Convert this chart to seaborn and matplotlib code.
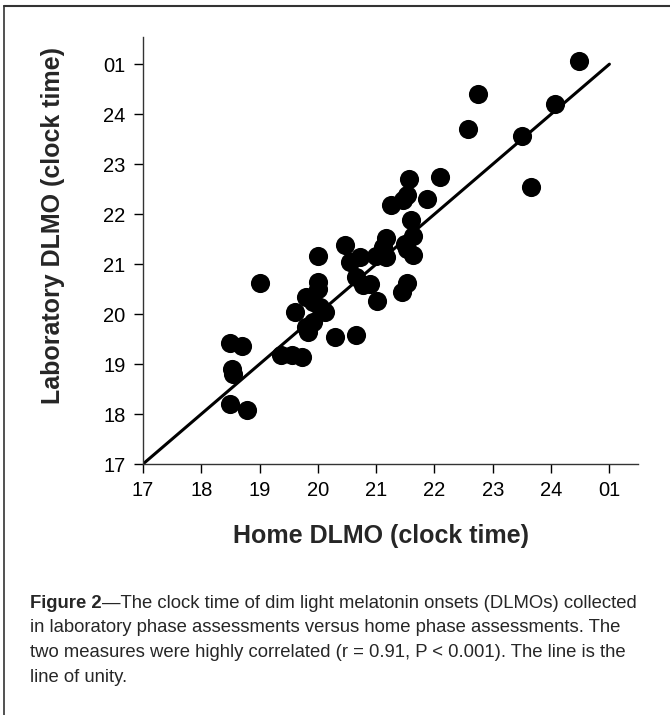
import numpy as np
import pandas as pd
import seaborn as sns
import matplotlib.pyplot as plt
from matplotlib.lines import Line2D

sns.set_style("ticks")
plt.rcParams['font.family'] = ['Liberation Sans', 'DejaVu Sans']

# DLMO clock times in hours (25 = 01:00 next day)
home = [24.48, 22.74, 24.06, 22.58, 23.50, 23.65,
        21.56, 22.09, 21.53, 21.46, 21.87, 21.26, 21.59, 21.63, 21.17, 21.49,
        21.52, 21.12, 21.00, 21.17, 21.63, 20.46, 20.55, 20.72, 20.00,
        20.00, 20.00, 19.80, 19.92, 20.03, 20.12, 19.60, 19.92, 19.80, 19.83,
        20.30, 20.66, 20.66, 20.89, 20.77, 21.01, 21.53, 21.45, 19.01,
        18.50, 18.69, 18.52, 18.54, 18.50, 18.79, 19.36, 19.55, 19.73]
lab = [25.07, 24.41, 24.20, 23.70, 23.57, 22.54,
       22.71, 22.74, 22.38, 22.28, 22.31, 22.18, 21.89, 21.56, 21.53, 21.41,
       21.31, 21.35, 21.17, 21.15, 21.18, 21.38, 21.05, 21.15, 21.17,
       20.65, 20.51, 20.35, 20.25, 20.15, 20.05, 20.05, 19.85, 19.75, 19.65,
       19.55, 19.58, 20.75, 20.61, 20.58, 20.27, 20.63, 20.45, 20.63,
       19.43, 19.36, 18.91, 18.80, 18.20, 18.09, 19.18, 19.18, 19.15]

ticks = [17, 18, 19, 20, 21, 22, 23, 24, 25]
tick_labels = ["17", "18", "19", "20", "21", "22", "23", "24", "01"]

df = pd.DataFrame({"home": home, "lab": lab})

fig = plt.figure(figsize=(6.7, 7.15), dpi=100)
ax = fig.add_axes([0.2134, 0.351, 0.7388, 0.597])

sns.scatterplot(data=df, x="home", y="lab", ax=ax, s=190, color="black",
                edgecolor="black", linewidth=0, zorder=3)

# line of unity
ax.plot([17, 25], [17, 25], color="black", linewidth=2.2, zorder=2)

ax.set_xlim(17, 25.49)
ax.set_ylim(17, 25.54)
ax.set_xticks(ticks)
ax.set_xticklabels(tick_labels)
ax.set_yticks(ticks)
ax.set_yticklabels(tick_labels)
ax.tick_params(labelsize=14.5, length=6.5, width=1, pad=6, colors="black")

sns.despine(ax=ax)
for s in ["left", "bottom"]:
    ax.spines[s].set_linewidth(1)
    ax.spines[s].set_color("#333333")

ax.set_xlabel("Home DLMO (clock time)", fontsize=18, fontweight="bold")
ax.set_ylabel("Laboratory DLMO (clock time)", fontsize=18, fontweight="bold")
ax.xaxis.set_label_coords(0.48, -0.14)
ax.yaxis.set_label_coords(-0.158, 0.559)

# frame lines (top and left only)
fig.add_artist(Line2D([4/670, 1], [1 - 6/715, 1 - 6/715], color="#333333", linewidth=1.5))
fig.add_artist(Line2D([4/670, 4/670], [0, 1 - 6/715], color="#333333", linewidth=1.2))

# caption
cap_font = ['Liberation Sans', 'DejaVu Sans']
cap_size = 13.3
lines = ["—The clock time of dim light melatonin onsets (DLMOs) collected",
         "in laboratory phase assessments versus home phase assessments. The",
         "two measures were highly correlated (r = 0.91, P < 0.001). The line is the",
         "line of unity."]
x0 = 30 / 670
ys = [603.5, 628, 652.5, 677]
bold = fig.text(x0, 1 - ys[0] / 715, "Figure 2", fontsize=cap_size, fontweight="bold",
                family=cap_font, va="center", ha="left")
fig.canvas.draw()
bb = bold.get_window_extent(renderer=fig.canvas.get_renderer())
fig.text(bb.x1 / fig.bbox.width, 1 - ys[0] / 715, lines[0], fontsize=cap_size,
         family=cap_font, va="center", ha="left")
for line, y in zip(lines[1:], ys[1:]):
    fig.text(x0, 1 - y / 715, line, fontsize=cap_size, family=cap_font, va="center", ha="left")

plt.savefig("out.png", dpi=100)
